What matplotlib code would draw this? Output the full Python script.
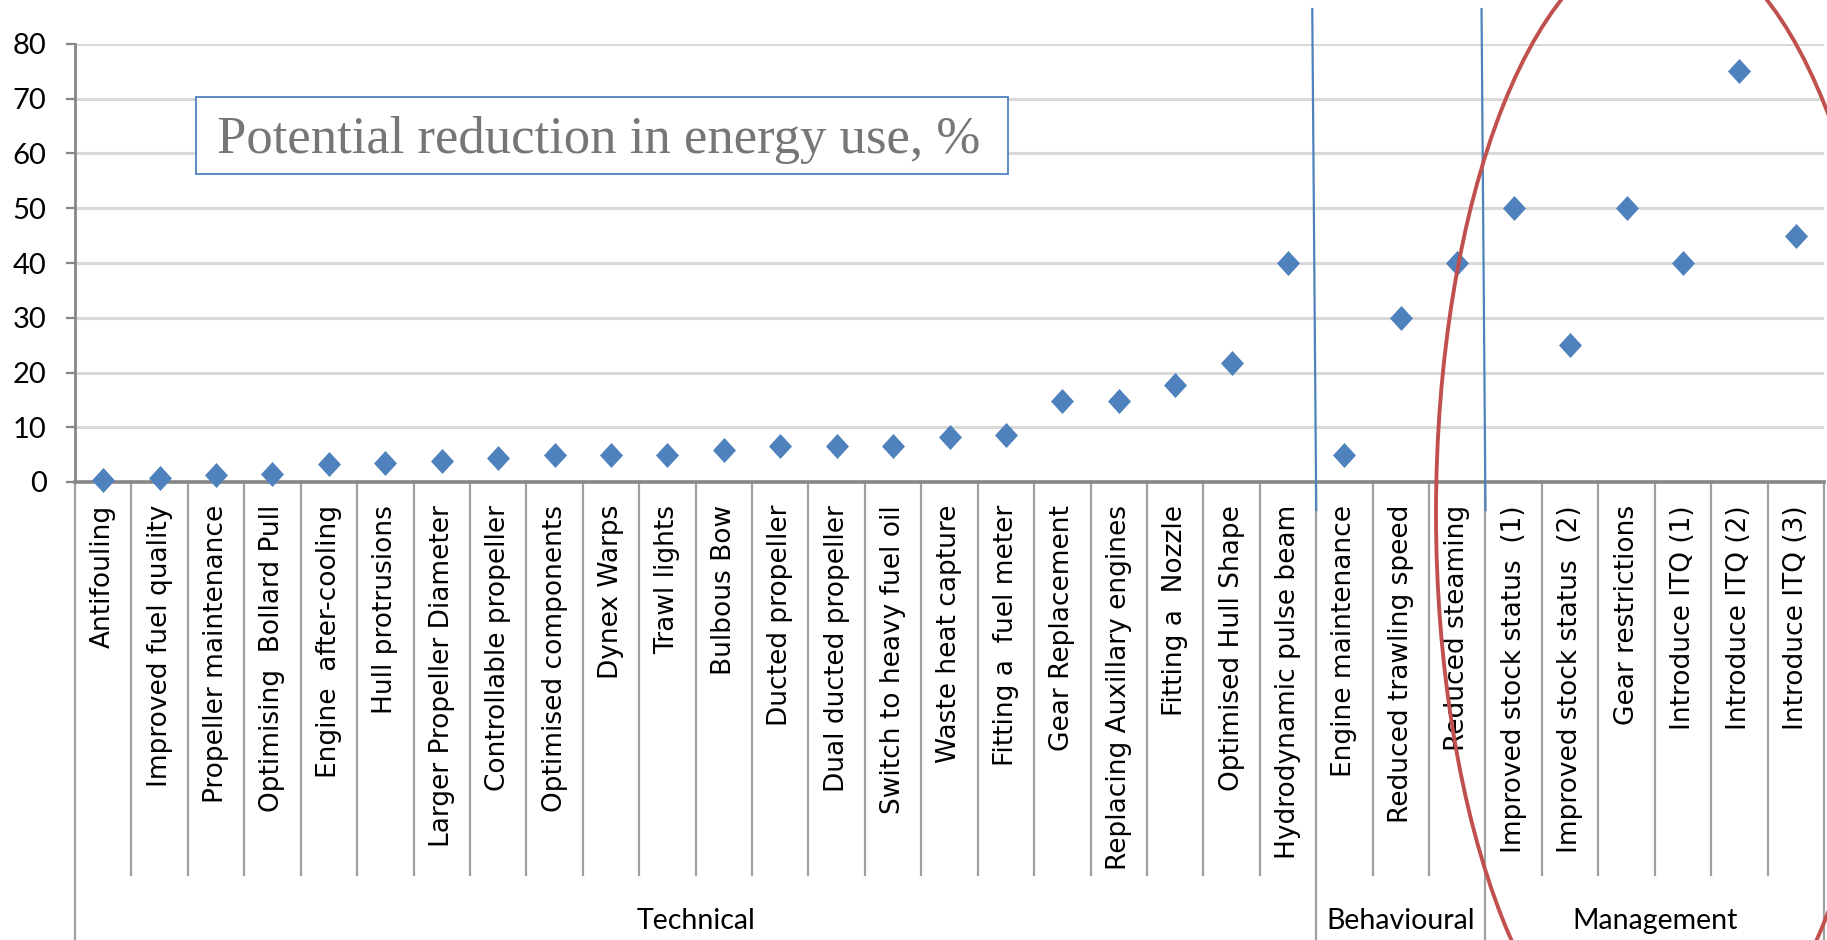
import numpy as np
import matplotlib
matplotlib.use("Agg")
import matplotlib.pyplot as plt
from matplotlib.patches import Ellipse, Rectangle
from matplotlib.lines import Line2D
from matplotlib.transforms import blended_transform_factory

# measures grouped by type, with potential reduction in energy use (%)
technical = ["Antifouling", "Improved fuel quality", "Propeller maintenance",
             "Optimising  Bollard Pull", "Engine  after-cooling", "Hull protrusions",
             "Larger Propeller Diameter", "Controllable propeller", "Optimised components",
             "Dynex Warps", "Trawl lights", "Bulbous Bow", "Ducted propeller",
             "Dual ducted propeller", "Switch to heavy fuel oil", "Waste heat capture",
             "Fitting a  fuel meter", "Gear Replacement", "Replacing Auxillary engines",
             "Fitting a  Nozzle", "Optimised Hull Shape", "Hydrodynamic pulse beam"]
technical_vals = [0.4, 0.7, 1.3, 1.5, 3.2, 3.5, 3.9, 4.4, 4.9, 4.9, 4.9,
                  5.8, 6.5, 6.5, 6.6, 8.3, 8.6, 14.8, 14.8, 17.8, 21.8, 40]

behavioural = ["Engine maintenance", "Reduced trawling speed", "Reduced steaming"]
behavioural_vals = [5, 30, 40]

management = ["Improved stock status  (1)", "Improved stock status  (2)", "Gear restrictions",
              "Introduce ITQ (1)", "Introduce ITQ (2)", "Introduce ITQ (3)"]
management_vals = [50, 25, 50, 40, 75, 45]

groups = ["Technical", "Behavioural", "Management"]
y_ticks = [0, 10, 20, 30, 40, 50, 60, 70, 80]

W, H = 1827, 940
fig = plt.figure(figsize=(W / 100, H / 100), dpi=100)
fig.patch.set_facecolor("white")

ax_left, ax_right, ax_top, ax_bottom = 75, 1824, 44, 482
ax_h = ax_bottom - ax_top
ax = fig.add_axes([ax_left / W, 1 - ax_bottom / H, (ax_right - ax_left) / W, ax_h / H])

labels = technical + behavioural + management
values = technical_vals + behavioural_vals + management_vals
x = np.arange(len(labels))

# slightly tall diamond, like the spreadsheet marker
diamond = [(0, 1), (0.92, 0), (0, -1), (-0.92, 0), (0, 1)]
ax.plot(x, values, linestyle="none", marker=diamond, ms=18, color="#4f81bd",
        markeredgewidth=0, clip_on=False, zorder=5)

ax.set_xlim(-0.5, len(labels) - 0.5)
ax.set_ylim(0, 80)
ax.set_yticks(y_ticks)
ax.set_xticks([])
ax.grid(axis="y", color="#d9d9d9", lw=2.2)
ax.set_axisbelow(True)
for side in ["top", "right"]:
    ax.spines[side].set_visible(False)
ax.spines["left"].set_color("#868686")
ax.spines["left"].set_linewidth(2)
ax.spines["bottom"].set_color("#868686")
ax.spines["bottom"].set_linewidth(2.6)
ax.tick_params(axis="y", length=6.5, width=1.6, color="#868686", pad=14,
               labelsize=21, labelcolor="black")
for t in ax.get_yticklabels():
    t.set_family("Lato")

# category table below the axis
trans = blended_transform_factory(ax.transData, ax.transAxes)
sep_low = -(875 - ax_bottom) / ax_h
grp_low = -(940 - ax_bottom) / ax_h
bounds = np.cumsum([0, len(technical), len(behavioural), len(management)]) - 0.5
for b in np.arange(len(labels) + 1) - 0.5:
    low = grp_low if b in bounds else sep_low
    ax.add_line(Line2D([b, b], [0, low], transform=trans, color="#a0a0a0",
                       lw=1.6, clip_on=False))

label_top = -(505 - ax_bottom) / ax_h
for i, lab in enumerate(labels):
    ax.text(i, label_top, lab, rotation=90, ha="center", va="top", transform=trans,
            fontsize=19, family="DejaVu Sans", color="black")

grp_y = -(921 - ax_bottom) / ax_h
for g, lo, hi in zip(groups, bounds[:-1], bounds[1:]):
    ax.text((lo + hi) / 2, grp_y, g, ha="center", va="center", transform=trans,
            fontsize=20.5, family="Lato", color="black")

# blue dividers between the groups
line_top = (ax_bottom - 9) / ax_h
line_low = -(510 - ax_bottom) / ax_h
for b in bounds[1:-1]:
    ax.add_line(Line2D([b - 0.07, b], [line_top, line_low], transform=trans,
                       color="#4f81bd", lw=1.6, clip_on=False, zorder=6))

# title box
fig.add_artist(Rectangle((196 / W, 1 - 174 / H), (1008 - 196) / W, (174 - 97) / H,
                         transform=fig.transFigure, fc="white", ec="#4f81bd", lw=1.3,
                         zorder=3))
fig.text(217 / W, 1 - 153 / H, "Potential reduction in energy use, %",
         family="Liberation Serif", fontsize=38, color="#767676", va="baseline",
         ha="left", zorder=4)

# red ring around the management measures
fig.add_artist(Ellipse((1664 / W, 1 - 513 / H), 456 / W, 1150 / H,
                       transform=fig.transFigure, fill=False, ec="#c0504d", lw=2.8,
                       zorder=7))

fig.savefig("out.png", dpi=100)
